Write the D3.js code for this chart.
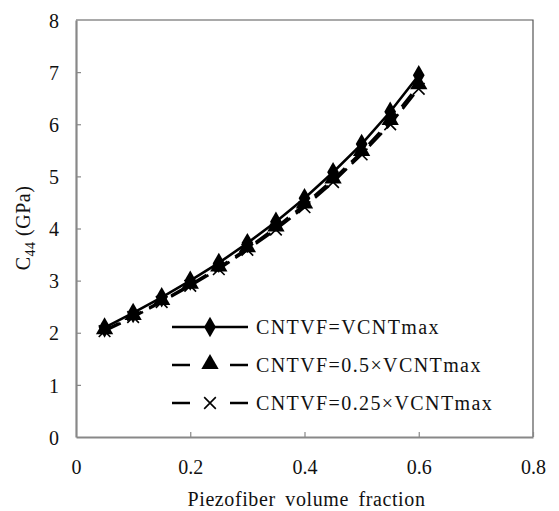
<!DOCTYPE html>
<html lang="en">
<head>
<meta charset="utf-8">
<title>C44 vs piezofiber volume fraction</title>
<script src="https://d3js.org/d3.v7.min.js"></script>
<style>
  body { margin: 0; background: #fff; }
  svg text { font-family: "Liberation Serif", "DejaVu Serif", "Noto Serif", serif; fill: #111; }
</style>
</head>
<body>
<script>
  // chart data
  var volFrac = [0.05, 0.1, 0.15, 0.2, 0.25, 0.3, 0.35, 0.4, 0.45, 0.5, 0.55, 0.6];
  var c44Full = [2.10, 2.38, 2.68, 3.00, 3.34, 3.72, 4.13, 4.58, 5.08, 5.62, 6.24, 6.94];
  var c44Half = [2.05, 2.32, 2.61, 2.92, 3.25, 3.62, 4.02, 4.46, 4.94, 5.47, 6.06, 6.75];
  var c44Quarter = [2.03, 2.30, 2.59, 2.90, 3.22, 3.59, 3.98, 4.41, 4.89, 5.42, 6.00, 6.68];
  var seriesNames = ["CNTVF=VCNTmax", "CNTVF=0.5\u00d7VCNTmax", "CNTVF=0.25\u00d7VCNTmax"];
  var xTicks = [0, 0.2, 0.4, 0.6, 0.8];
  var yTicks = [0, 1, 2, 3, 4, 5, 6, 7, 8];

  var width = 559, height = 511;
  var margin = { top: 20, right: 26, bottom: 74, left: 76 };
  var serif = "'Liberation Serif', 'DejaVu Serif', serif";

  var svg = d3.select("body").append("svg")
    .attr("width", width)
    .attr("height", height)
    .attr("font-family", serif);

  var x = d3.scaleLinear().domain([0, 0.8]).range([margin.left, width - margin.right]);
  var y = d3.scaleLinear().domain([0, 8]).range([height - margin.bottom, margin.top]);

  // frame (top/right)
  svg.append("path")
    .attr("d", "M" + x(0) + "," + y(8) + "H" + x(0.8) + "V" + y(0))
    .attr("fill", "none")
    .attr("stroke", "#555")
    .attr("stroke-width", 1.2);

  // axes
  var xAxis = svg.append("g")
    .attr("transform", "translate(0," + y(0) + ")")
    .call(d3.axisBottom(x).tickValues(xTicks).tickSizeInner(-5).tickSizeOuter(0)
      .tickFormat(function(d) { return d === 0 ? "0" : d3.format(".1f")(d); }));
  var yAxis = svg.append("g")
    .attr("transform", "translate(" + x(0) + ",0)")
    .call(d3.axisLeft(y).tickValues(yTicks).tickSizeInner(-5).tickSizeOuter(0));

  [xAxis, yAxis].forEach(function(a) {
    a.attr("font-family", serif);
    a.select(".domain").attr("stroke", "#888").attr("stroke-width", 2.2);
    a.selectAll(".tick line").attr("stroke", "#888").attr("stroke-width", 1.2);
    a.selectAll(".tick text").attr("font-size", 20).attr("font-family", serif).attr("fill", "#111");
  });
  xAxis.selectAll(".tick text").attr("dy", "0").attr("y", 37);
  yAxis.selectAll(".tick text").attr("x", -17).attr("dy", "0.36em");
  // hide ticks at the frame corners
  xAxis.selectAll(".tick line").filter(function(d) { return d === 0; }).remove();
  yAxis.selectAll(".tick line").filter(function(d) { return d === 0 || d === 8; }).remove();

  // axis titles
  svg.append("text")
    .attr("x", (x(0) + x(0.8)) / 2 + 2)
    .attr("y", 506)
    .attr("text-anchor", "middle")
    .attr("font-size", 20)
    .attr("letter-spacing", 0.6)
    .attr("word-spacing", 4)
    .text("Piezofiber volume fraction");

  var yTitle = svg.append("text")
    .attr("transform", "translate(30,228) rotate(-90)")
    .attr("text-anchor", "middle")
    .attr("font-size", 20)
    .attr("letter-spacing", 0.5);
  yTitle.append("tspan").text("C");
  yTitle.append("tspan").attr("font-size", 14).attr("dy", 5).text("44");
  yTitle.append("tspan").attr("dy", -5).text(" (GPa)");

  // series
  var series = [
    { name: seriesNames[0], values: c44Full, dash: null, marker: "diamond" },
    { name: seriesNames[1], values: c44Half, dash: "16,9", marker: "triangle" },
    { name: seriesNames[2], values: c44Quarter, dash: "18,7", marker: "cross" }
  ];

  var line = d3.line()
    .x(function(d) { return x(d[0]); })
    .y(function(d) { return y(d[1]); });

  function drawMarker(g, type, cx, cy) {
    if (type === "diamond") {
      g.append("path").attr("d", d3.symbol().type(d3.symbolDiamond).size(120)())
        .attr("transform", "translate(" + cx + "," + cy + ")").attr("fill", "#000");
    } else if (type === "triangle") {
      g.append("path").attr("d", d3.symbol().type(d3.symbolTriangle).size(130)())
        .attr("transform", "translate(" + cx + "," + (cy - 1) + ")").attr("fill", "#000");
    } else {
      g.append("path").attr("d", d3.symbol().type(d3.symbolX).size(90)())
        .attr("transform", "translate(" + cx + "," + cy + ")")
        .attr("fill", "none").attr("stroke", "#000").attr("stroke-width", 1.6);
    }
  }

  var plot = svg.append("g");
  series.slice().reverse().forEach(function(s) {
    var pts = volFrac.map(function(v, i) { return [v, s.values[i]]; });
    plot.append("path")
      .datum(pts)
      .attr("d", line)
      .attr("fill", "none")
      .attr("stroke", "#000")
      .attr("stroke-width", 2.6)
      .attr("stroke-dasharray", s.dash);
    pts.forEach(function(p) { drawMarker(plot, s.marker, x(p[0]), y(p[1])); });
  });

  // legend
  var legend = svg.append("g");
  series.forEach(function(s, i) {
    var ly = 327 + i * 38;
    legend.append("line")
      .attr("x1", 172).attr("x2", 248)
      .attr("y1", ly).attr("y2", ly)
      .attr("stroke", "#000").attr("stroke-width", 2.6)
      .attr("stroke-dasharray", s.dash ? "18,40" : null);
    drawMarker(legend, s.marker, 210, ly);
    legend.append("text")
      .attr("x", 256).attr("y", ly + 7)
      .attr("font-size", 20)
      .attr("letter-spacing", 1.4)
      .text(s.name);
  });
</script>
</body>
</html>
